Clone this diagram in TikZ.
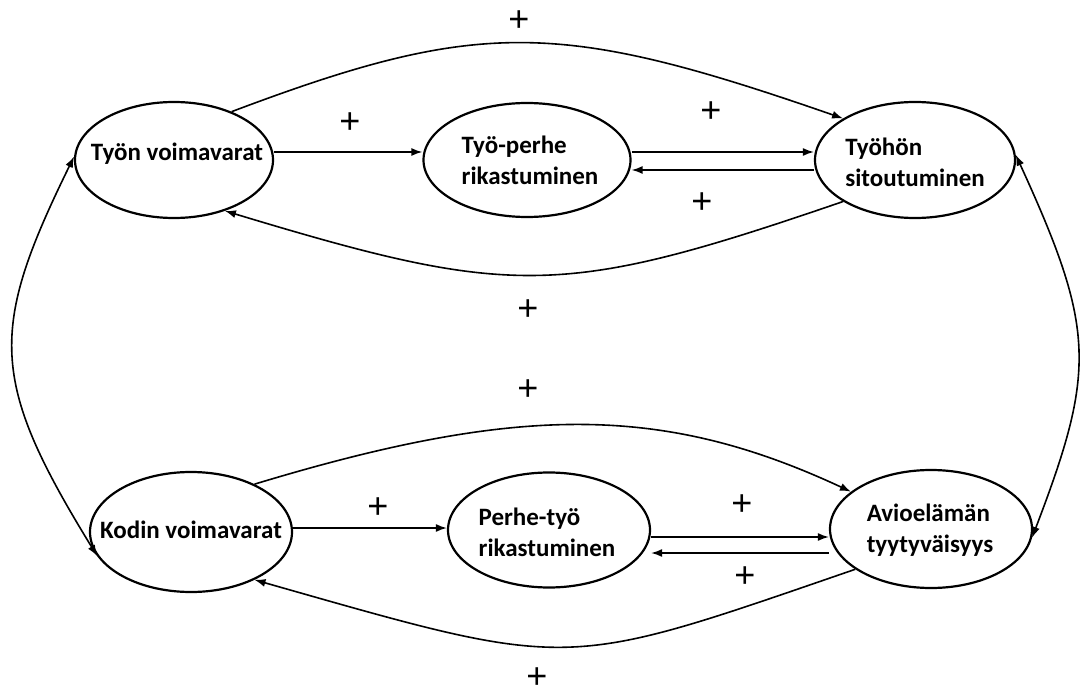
\documentclass[tikz,border=0pt]{standalone}
\usepackage{fontspec}
\setmainfont{Carlito}
\newfontfamily\plusfont{Liberation Sans}
\usetikzlibrary{arrows.meta,shapes.geometric}
\begin{document}
\begin{tikzpicture}[x=1pt,y=-1pt,
  ell/.style={draw,ellipse,line width=2.2pt,inner sep=0pt,minimum width=#1},
  lbl/.style={font=\bfseries\fontsize{25}{31}\selectfont,align=left,inner sep=0pt},
  pl/.style={font=\plusfont\fontsize{36}{36}\selectfont,inner sep=0pt},
  arr/.style={line width=1.6pt,-{Latex[length=11pt,width=8pt]}},
  darr/.style={line width=1.6pt,{Latex[length=11pt,width=8pt]}-{Latex[length=11pt,width=8pt]}}]
\useasboundingbox (0,0) rectangle (1080,695);
% ellipses
\node[ell=198pt,minimum height=116pt] (tv)  at (174,160) {};
\node[ell=207pt,minimum height=114pt] (twp) at (527,160) {};
\node[ell=200pt,minimum height=116pt] (tvs) at (915,160) {};
\node[ell=202pt,minimum height=120pt] (kv)  at (191,532) {};
\node[ell=202pt,minimum height=115pt] (ptr) at (549,530) {};
\node[ell=202pt,minimum height=118pt] (at)  at (931,529) {};
% labels
\node[lbl] (tvT)  at (177,154) {Työn voimavarat};
\node[lbl] (twpT) at (530,160) {Työ-perhe\\rikastuminen};
\node[lbl] (tvsT) at (915,162) {Työhön\\sitoutuminen};
\node[lbl] (kvT)  at (191,530) {Kodin voimavarat};
\node[lbl] (ptrT) at (547,532) {Perhe-työ\\rikastuminen};
\node[lbl] (atT)  at (930,530) {Avioelämän\\tyytyväisyys};
% straight arrows, top row
\draw[arr] ([yshift=8pt]tv.east) -- ([yshift=8pt]twp.west);
\draw[arr] ([yshift=8pt]twp.east) -- ([yshift=8pt]tvs.west);
\draw[arr] ([yshift=-10pt]tvs.west) -- ([yshift=-10pt]twp.east);
% straight arrows, bottom row
\draw[arr] ([yshift=4pt]kv.east) -- ([yshift=2pt]ptr.west);
\draw[arr] ([yshift=-7pt]ptr.east) -- ([yshift=-8pt]at.west);
\draw[arr] ([yshift=-24pt]at.west) -- ([yshift=-23pt]ptr.east);
% arcs, top row
\draw[arr] (tv.40) .. controls (480,18) and (560,20) .. (tvs.150);
\draw[arr] (tvs.210) .. controls (562,298) and (513,298) .. (tv.315);
% arcs, bottom row
\draw[arr] (kv.37) .. controls (519,404) and (663,404) .. (at.155);
\draw[arr] (at.208) .. controls (560,671) and (575,671) .. (kv.323);
% side arcs
\draw[darr,shorten >=-8pt] (tv.178) .. controls (-11,330) and (-11,380) .. (kv.190);
\draw[darr] (tvs.3) .. controls (1096,330) and (1096,370) .. (at.355);
% plus signs
\node[pl] (p1) at (519,21) {+};
\node[pl] (p2) at (350,123) {+};
\node[pl] (p3) at (711,112) {+};
\node[pl] (p4) at (702,203) {+};
\node[pl] (p5) at (528,310) {+};
\node[pl] (p6) at (528,390) {+};
\node[pl] (p7) at (378,508) {+};
\node[pl] (p8) at (742,505) {+};
\node[pl] (p9) at (745,577) {+};
\node[pl] (p10) at (537,678) {+};
\end{tikzpicture}
\end{document}
